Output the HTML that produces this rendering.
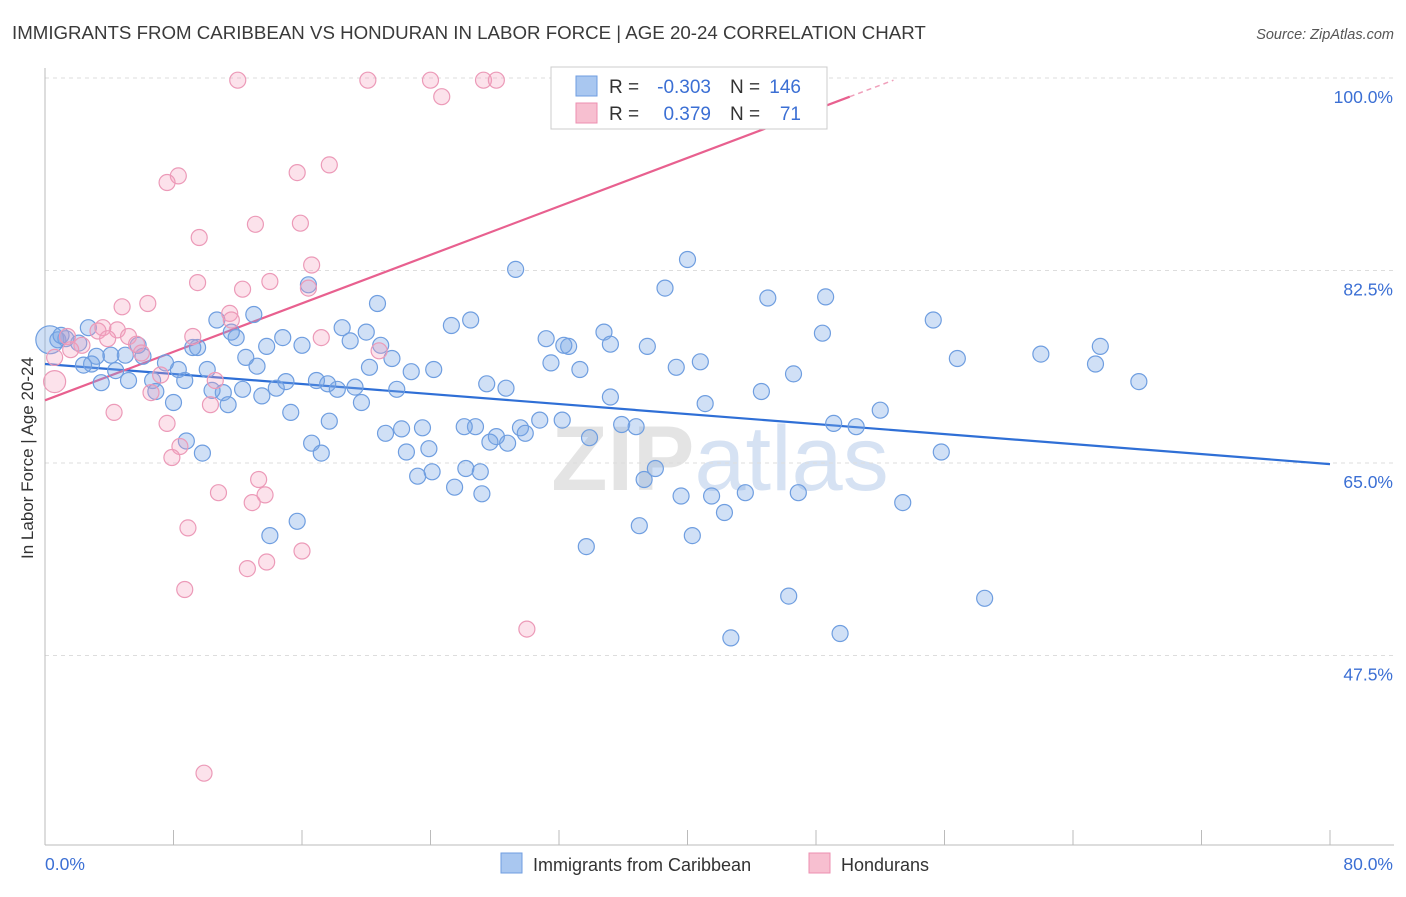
<!DOCTYPE html>
<html><head><meta charset="utf-8"><style>
body{margin:0;background:#fff;font-family:"Liberation Sans",sans-serif;}
svg text{font-family:"Liberation Sans",sans-serif;}
</style></head><body>
<svg id="chart" width="1406" height="892" xmlns="http://www.w3.org/2000/svg">
<text x="12" y="39" font-size="18.7" fill="#3a3a3a">IMMIGRANTS FROM CARIBBEAN VS HONDURAN IN LABOR FORCE | AGE 20-24 CORRELATION CHART</text>
<text x="1394" y="39" font-size="14.5" fill="#555" text-anchor="end" font-style="italic">Source: ZipAtlas.com</text>
<text transform="translate(33,458) rotate(-90)" font-size="17" fill="#333" text-anchor="middle">In Labor Force | Age 20-24</text>
<text x="720" y="490" font-size="92" fill="#e4e4e4" text-anchor="middle" font-weight="bold">ZIP<tspan fill="#d6e2f3" font-weight="normal">atlas</tspan></text>
<g id="grid"></g><g id="axes"></g><g id="trend"></g><g id="pts"></g>
<g>
<rect x="551" y="67" width="276" height="62" fill="#fff" stroke="#ccc"/>
<rect x="576" y="76" width="21" height="20" fill="#a9c7f0" stroke="#6f9ee0"/>
<rect x="576" y="103" width="21" height="20" fill="#f7bfd0" stroke="#ec8fb0"/>
<text x="609" y="93" font-size="19" fill="#333">R =</text>
<text x="711" y="93" font-size="19" fill="#3b6fd4" text-anchor="end">-0.303</text>
<text x="730" y="93" font-size="19" fill="#333">N =</text>
<text x="801" y="93" font-size="19" fill="#3b6fd4" text-anchor="end">146</text>
<text x="609" y="120" font-size="19" fill="#333">R =</text>
<text x="711" y="120" font-size="19" fill="#3b6fd4" text-anchor="end">0.379</text>
<text x="730" y="120" font-size="19" fill="#333">N =</text>
<text x="801" y="120" font-size="19" fill="#3b6fd4" text-anchor="end">71</text>
</g>
<g>
<rect x="501" y="853" width="21" height="20" fill="#a9c7f0" stroke="#6f9ee0"/>
<text x="533" y="871" font-size="18" fill="#333">Immigrants from Caribbean</text>
<rect x="809" y="853" width="21" height="20" fill="#f7bfd0" stroke="#ec8fb0"/>
<text x="841" y="871" font-size="18" fill="#333">Hondurans</text>
</g>
</svg>
<script>
const yTicks=[100,82.5,65,47.5];
const yTickLabels=["100.0%","82.5%","65.0%","47.5%"];
const xTickValues=[0,8,16,24,32,40,48,56,64,72,80];
const xEndLabels=["0.0%","80.0%"];
const blueX=[29.3,40.0,38.6,45.0,48.6,55.3,20.7,16.4,13.0,10.7,26.5,25.3,18.5,20.0,31.2,34.8,48.4,65.7,62.0,56.8,65.4,68.1,40.8,39.3,46.6,44.6,41.1,52.0,49.1,50.5,55.8,53.4,46.9,43.6,41.5,39.6,42.3,40.3,37.0,38.0,37.3,33.7,46.3,58.5,42.7,49.5,35.2,35.9,36.8,33.9,32.6,31.5,33.3,35.2,37.5,32.3,30.8,32.2,29.6,29.9,28.8,28.1,27.7,26.8,26.1,27.2,25.5,26.2,27.1,27.5,28.7,24.2,22.8,24.1,23.2,22.5,23.9,23.5,22.2,21.2,21.9,21.6,20.2,19.3,19.7,20.9,19.0,18.2,17.6,16.9,17.7,16.6,17.2,15.7,14.0,16.0,14.8,13.8,13.2,13.5,14.4,15.0,15.3,12.5,12.3,11.1,11.4,10.4,10.1,9.5,9.2,11.9,11.6,8.8,9.8,8.0,8.7,8.3,7.5,6.7,6.9,6.1,5.8,5.2,5.0,4.4,4.1,3.5,3.2,2.9,2.4,2.7,2.1,1.3,0.8,0.3,1.0];
const blueY=[82.6,83.5,80.9,80.0,80.1,78.0,79.5,81.2,78.5,78.0,78.0,77.5,77.3,76.9,76.3,76.9,76.8,75.6,74.9,74.5,74.0,72.4,74.2,73.7,73.1,71.5,70.4,69.8,68.6,68.3,66.0,61.4,62.3,62.3,62.0,62.0,60.5,58.4,59.3,64.5,63.5,57.4,52.9,52.7,49.1,49.5,71.0,68.5,68.3,67.3,75.6,74.1,73.5,75.8,75.6,75.7,68.9,68.9,68.2,67.7,66.8,67.4,66.9,68.3,68.3,62.2,62.8,64.5,64.2,72.2,71.8,73.5,73.3,64.2,63.8,66.0,66.3,68.2,68.1,67.7,71.7,74.5,73.7,71.9,70.5,75.7,76.1,71.7,72.2,72.5,68.8,66.8,65.9,59.7,58.4,75.7,76.4,75.6,73.8,71.1,71.8,72.4,69.6,74.6,71.7,71.4,70.3,71.6,73.5,75.5,75.5,76.4,76.9,67.0,65.9,70.5,72.5,73.5,74.1,72.5,71.5,74.7,75.7,72.5,74.8,73.4,74.8,72.3,74.7,74.0,73.9,77.3,75.9,76.3,76.2,76.2,76.6];
const pinkX=[12.0,20.1,24.0,27.3,28.1,43.3,24.7,17.7,15.7,8.3,7.6,9.6,13.1,15.9,16.6,16.4,14.0,12.3,9.5,6.4,4.8,11.5,11.6,17.2,20.8,9.2,4.5,3.6,3.3,5.2,3.9,5.7,6.0,2.3,1.6,1.4,0.6,0.6,6.6,7.2,10.6,10.3,4.3,7.6,8.4,7.9,10.8,13.3,13.7,12.9,8.9,16.0,13.8,12.6,8.7,30.0,9.9];
const pinkY=[99.8,99.8,99.8,99.8,99.8,99.8,98.3,92.1,91.4,91.1,90.5,85.5,86.7,86.8,83.0,80.9,81.5,80.8,81.4,79.5,79.2,78.6,78.0,76.4,75.2,76.5,77.1,77.3,77.0,76.5,76.3,75.8,75.0,75.7,75.3,76.5,74.6,72.4,71.4,73.0,72.5,70.3,69.6,68.6,66.5,65.5,62.3,63.5,62.1,61.4,59.1,57.0,56.0,55.4,53.5,49.9,36.8];
const blueTrend=[74.0,64.9];
const pinkTrend=[70.7,98.3];
const pinkTrendEndX=50.1;

const NS="http://www.w3.org/2000/svg";
const X0=45,X1=1330;
function sx(v){return X0+(v/80)*(X1-X0);}
function sy(v){return 78+(100-v)*(192.5/17.5);}
function mk(tag,attrs,parent){const e=document.createElementNS(NS,tag);for(const k in attrs)e.setAttribute(k,attrs[k]);document.getElementById(parent).appendChild(e);return e;}

yTicks.forEach((t,i)=>{
  const g=mk('line',{x1:X0,x2:1394,y1:sy(t),y2:sy(t),stroke:'#ddd','stroke-dasharray':'4,4'},'grid');
  
  
  const l=mk('text',{x:1393,y:sy(t)+25,'font-size':17.5,fill:'#3b6fd4','text-anchor':'end'},'grid');
  l.textContent=yTickLabels[i];
  
  
});
const ax=mk('line',{x1:X0,x2:1394,y1:845,y2:845,stroke:'#bbb'},'axes');


const ay=mk('line',{x1:X0,x2:X0,y1:68,y2:845,stroke:'#bbb'},'axes');


xTickValues.forEach(v=>{
  const t=mk('line',{x1:sx(v),x2:sx(v),y1:830,y2:845,stroke:'#bbb'},'axes');
  
  
});
const xl0=mk('text',{x:45,y:870,'font-size':17.5,fill:'#3b6fd4'},'axes');xl0.textContent=xEndLabels[0];


const xl1=mk('text',{x:1393,y:870,'font-size':17.5,fill:'#3b6fd4','text-anchor':'end'},'axes');xl1.textContent=xEndLabels[1];



blueX.forEach((x,i)=>{
  const c=mk('circle',{cx:sx(x),cy:sy(blueY[i]),r:i==blueX.length-2?14:8,fill:'rgba(120,165,230,0.35)',stroke:'#6f9ee0','stroke-width':1.2},'pts');
  
  
});
pinkX.forEach((x,i)=>{
  const c=mk('circle',{cx:sx(x),cy:sy(pinkY[i]),r:i==37?11:8,fill:'rgba(244,160,190,0.3)',stroke:'#ec9ab8','stroke-width':1.2},'pts');
  
  
});
const bt=mk('line',{x1:sx(0),y1:sy(blueTrend[0]),x2:sx(80),y2:sy(blueTrend[1]),stroke:'#2f6fd6','stroke-width':2.2},'trend');


const pt=mk('line',{x1:sx(0),y1:sy(pinkTrend[0]),x2:sx(pinkTrendEndX),y2:sy(pinkTrend[1]),stroke:'#e8608f','stroke-width':2.2},'trend');


const slope=(pinkTrend[1]-pinkTrend[0])/pinkTrendEndX;
const xe=pinkTrendEndX+ (99.8-pinkTrend[1])/slope;
const pd=mk('line',{x1:sx(pinkTrendEndX),y1:sy(pinkTrend[1]),x2:sx(xe),y2:sy(99.8),stroke:'#f0a0bb','stroke-width':1.5,'stroke-dasharray':'5,4'},'trend');


</script>
</body></html>
